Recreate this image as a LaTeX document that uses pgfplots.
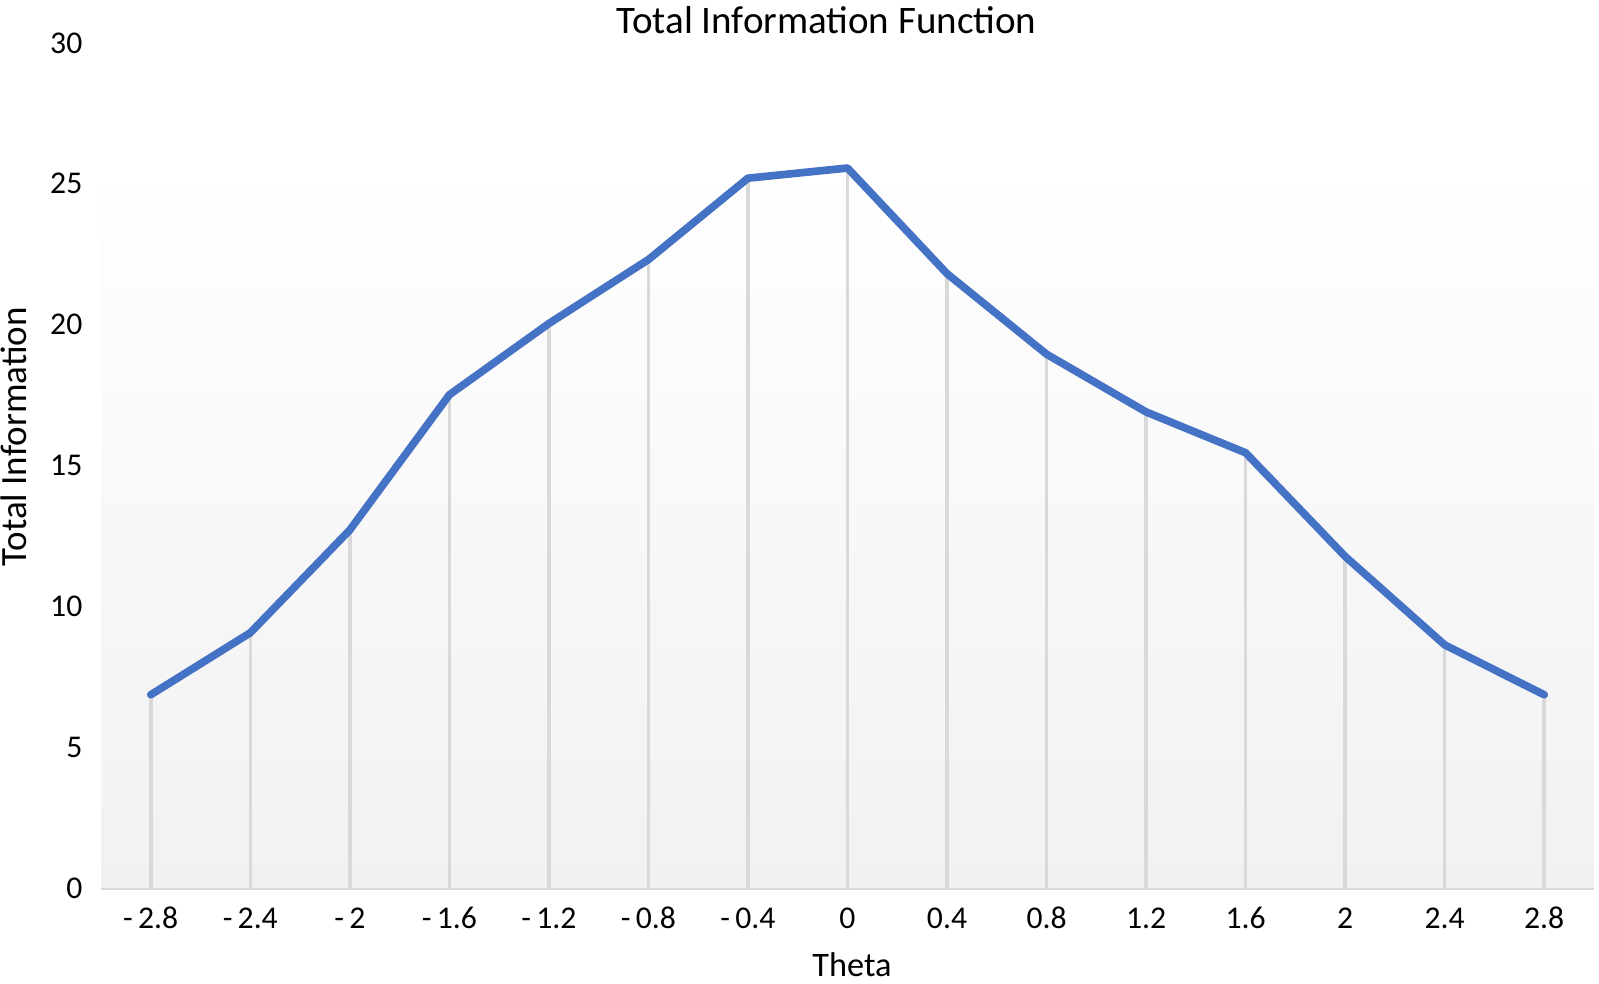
\documentclass[border=0pt]{standalone}
\usepackage{pgfplots}
\pgfplotsset{compat=1.18}
\usepackage{fontspec}
\setmainfont{Carlito}
\definecolor{lineblue}{HTML}{4472C4}
\definecolor{dropgray}{HTML}{D9D9D9}
\definecolor{bgbottom}{HTML}{F1F1F1}
\begin{document}
\fontsize{9.5pt}{11pt}\selectfont
\begin{tikzpicture}
\begin{axis}[
  scale only axis,
  width=447.9pt, height=253.5pt,
  xmin=-0.5, xmax=14.5,
  ymin=0, ymax=30,
  ytick={0,5,10,15,20,25,30},
  xtick={0,...,14},
  xticklabels={-\,2.8,-\,2.4,-\,2,-\,1.6,-\,1.2,-\,0.8,-\,0.4,0,0.4,0.8,1.2,1.6,2,2.4,2.8},
  axis x line*=bottom,
  axis y line*=left,
  y axis line style={draw=none},
  x axis line style={draw=dropgray, line width=1.2pt, -},
  major tick length=0pt,
  tick style={draw=none},
  yticklabel style={anchor=east, inner sep=0pt, xshift=-5.4pt, font=\fontsize{9.5pt}{11pt}\selectfont},
  xticklabel style={anchor=center, inner sep=0pt, yshift=-9pt, font=\fontsize{9.5pt}{11pt}\selectfont},
  /pgf/number format/assume math mode=true,
  every axis title shift=0pt,
  title={Total Information Function},
  title style={at={(axis description cs:0.486,1)}, anchor=center, inner sep=0pt, yshift=6.9pt, font=\fontsize{11.7pt}{13pt}\selectfont},
  xlabel={Theta},
  xlabel style={at={(axis description cs:0.503,0)}, anchor=center, inner sep=0pt, yshift=-23.1pt, font=\fontsize{10.3pt}{12pt}\selectfont},
  ylabel={Total Information},
  ylabel style={at={(axis description cs:0,0.534)}, anchor=center, inner sep=0pt, yshift=26.3pt, font=\fontsize{11.1pt}{13pt}\selectfont},
  clip=false,
]
\shade[top color=white, bottom color=bgbottom, draw=none] (rel axis cs:0,0) rectangle (rel axis cs:1,0.86);
\addplot[ycomb, draw=dropgray, line width=1.05pt, no marks] coordinates {
(0,6.86) (1,9.06) (2,12.71) (3,17.51) (4,20.04) (5,22.31) (6,25.2) (7,25.56)
(8,21.81) (9,18.95) (10,16.9) (11,15.45) (12,11.77) (13,8.63) (14,6.86)
};
\addplot[draw=lineblue, line width=2.3pt, line join=round, line cap=round, no marks] coordinates {
(0,6.86) (1,9.06) (2,12.71) (3,17.51) (4,20.04) (5,22.31) (6,25.2) (7,25.56)
(8,21.81) (9,18.95) (10,16.9) (11,15.45) (12,11.77) (13,8.63) (14,6.86)
};
\path (rel axis cs:0,0) ++(-30.3pt,-28.8pt) rectangle ([xshift=1.5pt,yshift=12.9pt]rel axis cs:1,1);
\end{axis}
\end{tikzpicture}
\end{document}
